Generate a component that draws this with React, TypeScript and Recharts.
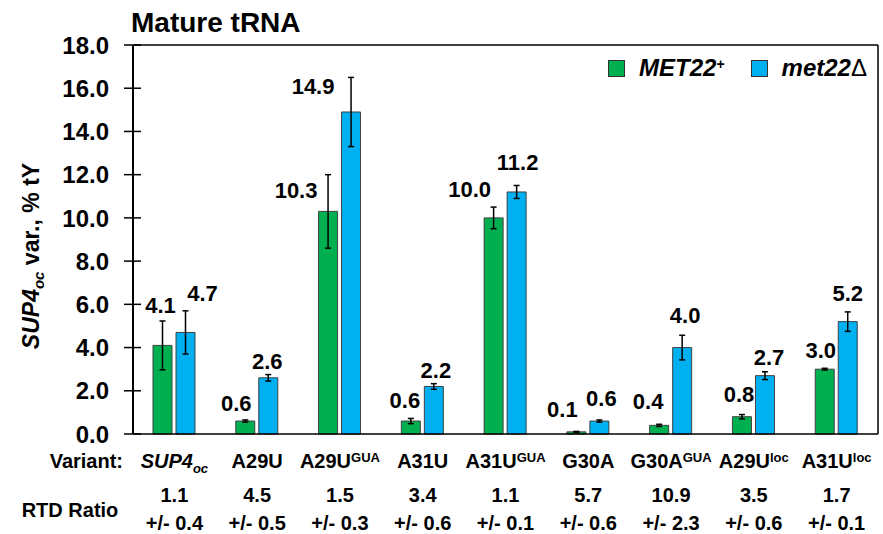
import React from "react";
import { BarChart, Bar, XAxis, YAxis, ErrorBar, LabelList, ReferenceLine } from "recharts";

// variant names: "^" marks a superscript, "_" a subscript (italic name)
const variants = [
  "SUP4_oc",
  "A29U",
  "A29U^GUA",
  "A31U",
  "A31U^GUA",
  "G30A",
  "G30A^GUA",
  "A29U^loc",
  "A31U^loc",
];
const met22Plus = [4.1, 0.6, 10.3, 0.6, 10.0, 0.1, 0.4, 0.8, 3.0];
const met22PlusErr = [1.13, 0.05, 1.7, 0.12, 0.5, 0.02, 0.05, 0.1, 0.04];
const met22Del = [4.7, 2.6, 14.9, 2.2, 11.2, 0.6, 4.0, 2.7, 5.2];
const met22DelErr = [1.0, 0.15, 1.6, 0.13, 0.3, 0.05, 0.57, 0.18, 0.45];
const rtdRatio = [1.1, 4.5, 1.5, 3.4, 1.1, 5.7, 10.9, 3.5, 1.7];
const rtdRatioErr = [0.4, 0.5, 0.3, 0.6, 0.1, 0.6, 2.3, 0.6, 0.1];
const yTicks = [0, 2, 4, 6, 8, 10, 12, 14, 16, 18];

// hand placement of the value labels (dx, dy from default spot above the error bar)
const plusLabelShift = [[-2, 0], [-9, -1], [-32, 31], [-6, -2], [-24, -2], [-14, -6], [-11, -7], [-3, -4], [-4, -2]];
const delLabelShift = [[17, -2], [-1, 3], [-38, 25], [2, 2], [1, -7], [2, -6], [3, -4], [4, 1], [0, -3]];

const FONT = '"Liberation Sans", Arial, sans-serif';
const GREEN = "#00B050";
const BLUE = "#00B0F0";
const AXIS_X = 133;

const data = variants.map((v, i) => ({
  variant: v,
  plus: met22Plus[i],
  plusErr: met22PlusErr[i],
  del: met22Del[i],
  delErr: met22DelErr[i],
}));

const VariantName = ({ name }: { name: string }) => {
  if (name.includes("_")) {
    const [base, sub] = name.split("_");
    return (
      <>
        <tspan fontStyle="italic">{base}</tspan>
        <tspan fontStyle="italic" fontSize={13} dy={5}>{sub}</tspan>
      </>
    );
  }
  if (name.includes("^")) {
    const [base, sup] = name.split("^");
    return (
      <>
        <tspan>{base}</tspan>
        <tspan fontSize={13} dy={-6}>{sup}</tspan>
      </>
    );
  }
  return <tspan>{name}</tspan>;
};

const XTick = (props: any) => {
  const { x, payload } = props;
  const i = payload.index;
  const y = 434;
  const txt = { fontFamily: FONT, fontWeight: 700, fontSize: 20, fill: "#000", textAnchor: "middle" as const };
  return (
    <g>
      <text x={x} y={y + 34} {...txt}>
        <VariantName name={variants[i]} />
      </text>
      <text x={x} y={y + 68} {...txt}>{rtdRatio[i].toFixed(1)}</text>
      <text x={x} y={y + 96} {...txt}>{`+/- ${rtdRatioErr[i].toFixed(1)}`}</text>
    </g>
  );
};

const YTick = (props: any) => {
  const { y, payload } = props;
  return (
    <g>
      <line x1={AXIS_X - 9} x2={AXIS_X + 8} y1={y} y2={y} stroke="#000" strokeWidth={1.5} />
      <text x={109} y={y} dy="0.36em" textAnchor="end" fontFamily={FONT} fontWeight={700} fontSize={24} fill="#000">
        {payload.value.toFixed(1)}
      </text>
    </g>
  );
};

const valueLabel = (errs: number[], shifts: number[][]) => (props: any) => {
  const { x, y, width, height, value, index } = props;
  const pxPerUnit = Number(height) / Number(value);
  const top = Number(y) - errs[index] * pxPerUnit;
  const [dx, dy] = shifts[index];
  return (
    <text
      x={Number(x) + Number(width) / 2 + dx}
      y={top - 16 + dy}
      dy="0.36em"
      textAnchor="middle"
      fontFamily={FONT}
      fontWeight={700}
      fontSize={22}
      fill="#000"
    >
      {Number(value).toFixed(1)}
    </text>
  );
};

const LegendItem = ({ color, children }: { color: string; children: React.ReactNode }) => (
  <span style={{ display: "inline-flex", alignItems: "center" }}>
    <span style={{ width: 17, height: 17, background: color, border: "1px solid #333", boxSizing: "border-box", marginRight: 14 }} />
    <span style={{ fontStyle: "italic", fontWeight: 700, fontSize: 24 }}>{children}</span>
  </span>
);

export default function App() {
  return (
    <div style={{ position: "absolute", left: 0, top: 0, width: 883, height: 534, background: "#fff", fontFamily: FONT }}>
      <BarChart
        width={883}
        height={534}
        data={data}
        margin={{ top: 45, right: 4, bottom: 0, left: 0 }}
        barSize={19}
        barGap={4}
      >
        <XAxis
          dataKey="variant"
          height={100}
          tickLine={false}
          tickSize={0}
          tickMargin={0}
          interval={0}
          axisLine={{ stroke: "#000", strokeWidth: 1.5 }}
          tick={<XTick />}
        />
        <YAxis
          width={AXIS_X}
          domain={[0, 18]}
          ticks={yTicks}
          interval={0}
          tickLine={false}
          axisLine={{ stroke: "#000", strokeWidth: 2 }}
          tick={<YTick />}
        />
        <YAxis
          yAxisId="right"
          orientation="right"
          width={1}
          domain={[0, 18]}
          tick={false}
          tickLine={false}
          axisLine={{ stroke: "#000", strokeWidth: 1.5 }}
        />
        <ReferenceLine y={18} stroke="#000" strokeWidth={1.5} />
        <Bar dataKey="plus" fill={GREEN} stroke="#404040" strokeWidth={1} isAnimationActive={false}>
          <ErrorBar dataKey="plusErr" direction="y" width={3} stroke="#000" strokeWidth={1.5} />
          <LabelList dataKey="plus" content={valueLabel(met22PlusErr, plusLabelShift)} />
        </Bar>
        <Bar dataKey="del" fill={BLUE} stroke="#404040" strokeWidth={1} isAnimationActive={false}>
          <ErrorBar dataKey="delErr" direction="y" width={3} stroke="#000" strokeWidth={1.5} />
          <LabelList dataKey="del" content={valueLabel(met22DelErr, delLabelShift)} />
        </Bar>
      </BarChart>

      <svg width={883} height={534} style={{ position: "absolute", left: 0, top: 0, pointerEvents: "none" }}>
        <text x={131} y={32} fontFamily={FONT} fontWeight={700} fontSize={28} fill="#000">Mature tRNA</text>
        <text
          transform="rotate(-90)"
          x={-256}
          y={39}
          textAnchor="middle"
          fontFamily={FONT}
          fontWeight={700}
          fontSize={23}
          fill="#000"
        >
          <tspan fontStyle="italic">SUP4</tspan>
          <tspan fontStyle="italic" fontSize={15} dy={5}>oc</tspan>
          <tspan dy={-5}> var., % tY</tspan>
        </text>
        <text x={123} y={468} textAnchor="end" fontFamily={FONT} fontWeight={700} fontSize={20} fill="#000">Variant:</text>
        <text x={70} y={517} textAnchor="middle" fontFamily={FONT} fontWeight={700} fontSize={20} fill="#000">RTD Ratio</text>
      </svg>

      <div style={{ position: "absolute", left: 608, top: 56, display: "flex", alignItems: "center", gap: 26, color: "#000", lineHeight: 1 }}>
        <LegendItem color={GREEN}>
          MET22<sup style={{ fontSize: 14, verticalAlign: "7px" }}>+</sup>
        </LegendItem>
        <LegendItem color={BLUE}>
          met22<span style={{ fontStyle: "normal", fontWeight: 400 }}>Δ</span>
        </LegendItem>
      </div>
    </div>
  );
}
